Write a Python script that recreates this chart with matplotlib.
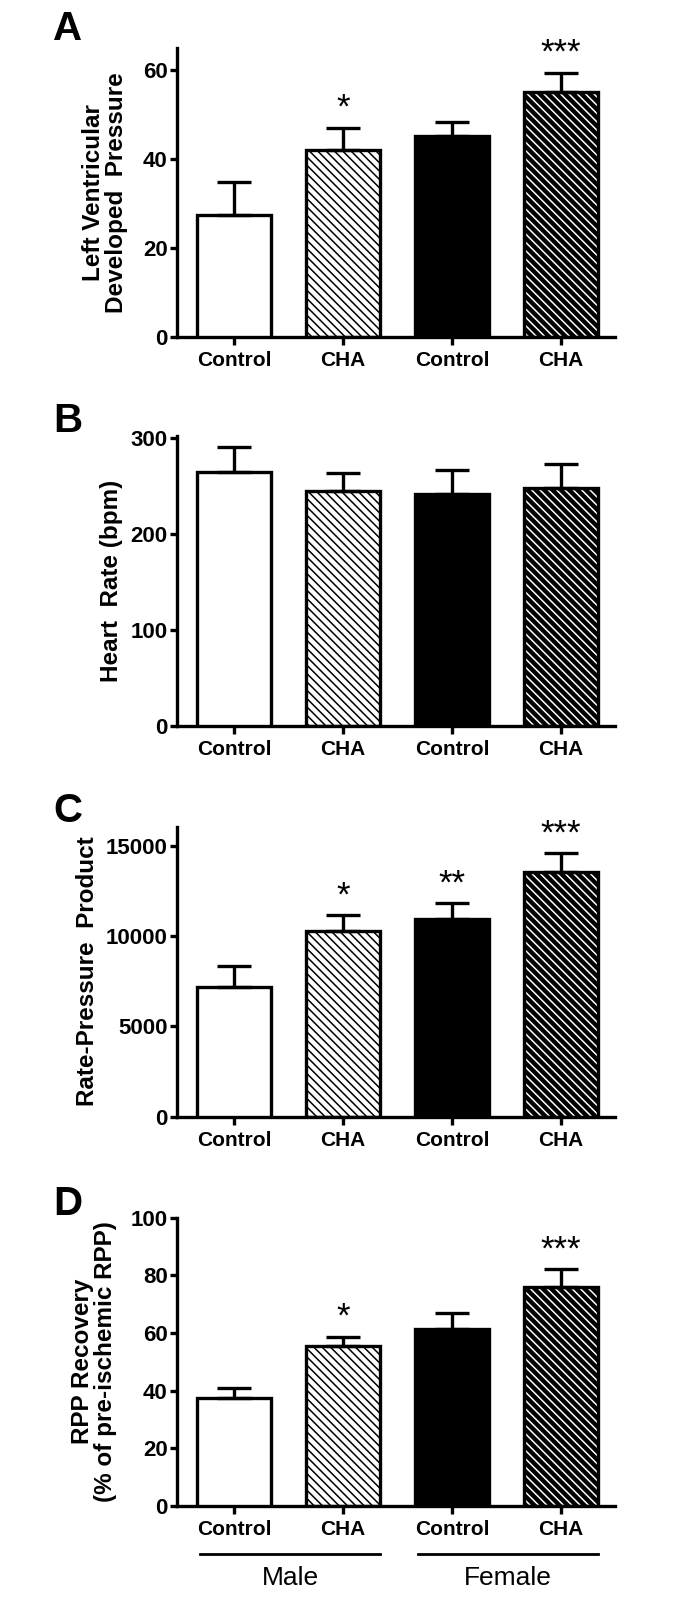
import numpy as np
import matplotlib
matplotlib.use("Agg")
import matplotlib.pyplot as plt

plt.rcParams['font.family'] = ['Liberation Sans', 'DejaVu Sans']
plt.rcParams['hatch.linewidth'] = 1.1

# dados
grupos = ["Control", "CHA", "Control", "CHA"]
sexos = ["Male", "Female"]

lvdp_media = [27.5, 42.1, 45.1, 55.0]
lvdp_erro = [7.3, 4.9, 3.2, 4.4]
lvdp_sig = ["", "*", "", "***"]

fc_media = [265, 245, 242, 248]
fc_erro = [26, 18, 25, 25]
fc_sig = ["", "", "", ""]

rpp_media = [7160, 10300, 10920, 13520]
rpp_erro = [1180, 850, 890, 1060]
rpp_sig = ["", "*", "**", "***"]

rec_media = [37.3, 55.3, 61.4, 76.1]
rec_erro = [3.6, 3.3, 5.4, 6.0]
rec_sig = ["", "*", "", "***"]

paineis = [
    ("A", lvdp_media, lvdp_erro, lvdp_sig, "Left Ventricular\nDeveloped  Pressure",
     [0, 20, 40, 60], 65, [0.0, 0.7894, 0.0, 0.1806], -0.165),
    ("B", fc_media, fc_erro, fc_sig, "Heart  Rate (bpm)",
     [0, 100, 200, 300], 302, [0.0, 0.5463, 0.0, 0.1812], -0.151),
    ("C", rpp_media, rpp_erro, rpp_sig, "Rate-Pressure  Product",
     [0, 5000, 10000, 15000], 16050, [0.0, 0.3021, 0.0, 0.1812], -0.204),
    ("D", rec_media, rec_erro, rec_sig, "RPP Recovery\n(% of pre-ischemic RPP)",
     [0, 20, 40, 60, 80, 100], 100, [0.0, 0.0588, 0.0, 0.1802], -0.19),
]
topos_letra = [10, 402, 792, 1185]

faces = ["white", "white", "black", "black"]
hachuras = [None, "\\\\\\\\", None, "\\\\\\\\"]
cor_hachura = ["black", "black", "black", "white"]

lw = 2.4
fig = plt.figure(figsize=(6.74, 16), dpi=100)
x = np.arange(len(grupos))

for k, (letra, media, erro, sig, ylab, yt, ytop, pos, xlab) in enumerate(paineis):
    ax = fig.add_axes([0.263, pos[1], 0.65, pos[3]])
    for i in range(len(x)):
        if hachuras[i] is not None:
            ax.bar(x[i], media[i], width=0.68, color=faces[i], edgecolor=cor_hachura[i],
                   hatch=hachuras[i], linewidth=0, zorder=2)
            ax.bar(x[i], media[i], width=0.68, fill=False, edgecolor="black",
                   linewidth=lw, zorder=3)
        else:
            ax.bar(x[i], media[i], width=0.68, color=faces[i], edgecolor="black",
                   linewidth=lw, zorder=3)
    ax.errorbar(x, media, yerr=[np.zeros(len(x)), erro], fmt="none", ecolor="black",
                elinewidth=lw, capsize=12, capthick=lw, zorder=4)
    for i in range(len(x)):
        if sig[i]:
            ax.annotate(sig[i], (x[i], media[i] + erro[i]), xytext=(0, 14),
                        textcoords="offset points", ha="center", va="center",
                        fontsize=25, annotation_clip=False)
    ax.set_xlim(-0.52, 3.5)
    ax.set_ylim(0, ytop)
    ax.set_yticks(yt)
    ax.set_xticks(x)
    ax.set_xticklabels(grupos)
    for s in ["top", "right"]:
        ax.spines[s].set_visible(False)
    for s in ["left", "bottom"]:
        ax.spines[s].set_linewidth(lw)
    ax.tick_params(axis="y", direction="out", length=5, width=lw, labelsize=16, pad=2)
    ax.tick_params(axis="x", direction="out", length=6, width=lw, labelsize=15, pad=4)
    for t in ax.get_xticklabels() + ax.get_yticklabels():
        t.set_fontweight("bold")
    ax.text(xlab, 0.5, ylab, rotation=90, ha="center", va="center", transform=ax.transAxes,
            fontsize=17.5, fontweight="bold", linespacing=1.05)
    fig.text(53 / 674, 1 - topos_letra[k] / 1600, letra, ha="left", va="top",
             fontsize=29, fontweight="bold")

    if letra == "D":
        trans = ax.get_xaxis_transform()
        for j, sexo in enumerate(sexos):
            x0 = 2 * j - 0.31
            x1 = 2 * j + 1.34
            ax.plot([x0, x1], [-0.167, -0.167], color="black", linewidth=2,
                    transform=trans, clip_on=False)
            ax.text((x0 + x1) / 2, -0.25, sexo, transform=trans, ha="center", va="center",
                    fontsize=19)

fig.savefig("out.png", dpi=100, facecolor="white")
